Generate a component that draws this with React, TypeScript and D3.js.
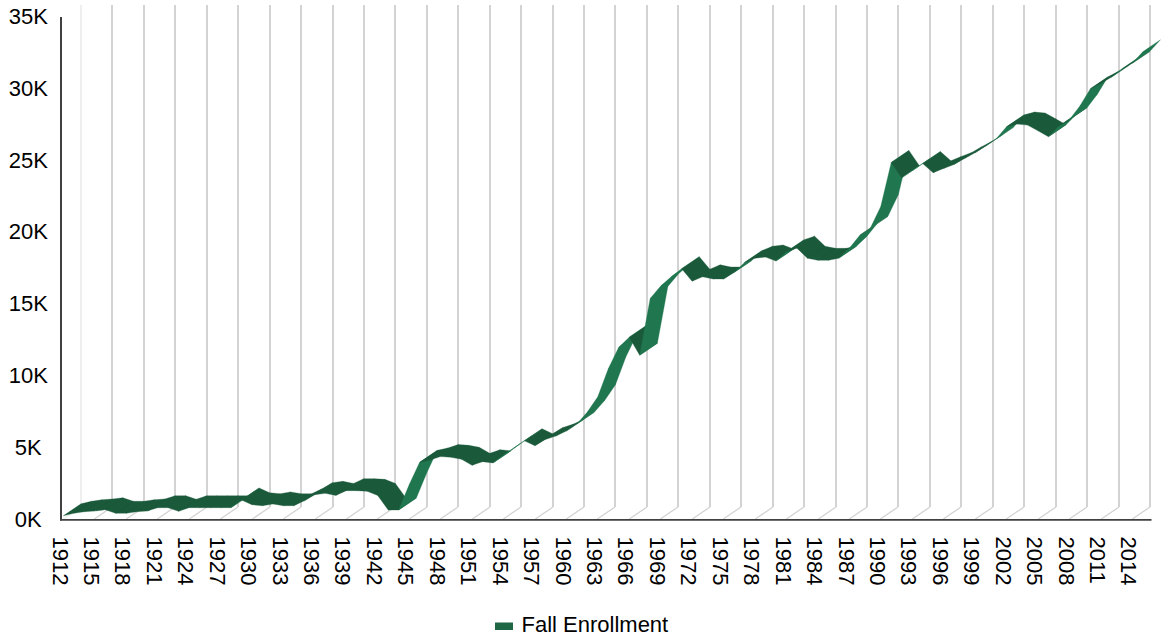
import React from "react";
import * as d3 from "d3";

const firstYear = 1912;
const enrollment = [
  260, 430, 540, 590, 680, 430, 430, 540, 590, 820,
  820, 570, 820, 820, 820, 820, 820, 1360, 1030, 960,
  1080, 960, 960, 1300, 1730, 1820, 1680, 2010, 2010, 1960,
  1680, 660, 660, 2420, 3980, 4140, 4380, 4330, 4190, 3770,
  4030, 3940, 4490, 4985, 5480, 5140, 5580, 5810, 6160, 6650,
  7480, 8550, 10500, 12000, 12700, 11440, 15400, 16260, 16900, 17470,
  16600, 16900, 16750, 16750, 17200, 17900, 18200, 18280, 18000, 18650,
  18900, 18200, 18050, 18050, 18200, 18900, 19800, 20280, 21800, 24870,
  23800, 24295, 24790, 24150, 24450, 24730, 25150, 25540, 26000, 26500,
  27350, 27540, 27470, 27070, 26660, 27400, 27850, 28800, 30000, 30380,
  30800, 31380, 31770, 32580,
];
const years = enrollment.map((_, i) => firstYear + i);
const labelYears = years.filter((_, i) => i % 3 === 0 && i < 103);
const valueTicks = [0, 5000, 10000, 15000, 20000, 25000, 30000, 35000];
const seriesName = "Fall Enrollment";

const FONT = "'Liberation Sans', Arial, sans-serif";
const DEPTH_X = 17.7;
const DEPTH_Y = 12;
const DARK = "#1a5a3b";
const LIGHT = "#20764f";

export default function App() {
  const x = d3.scaleLinear().domain([1912, 2015]).range([63.3, 63.3 + 10.48 * 103]);
  const y = d3.scaleLinear().domain([0, 35000]).range([519.5, 17]);
  const poly = d3.line();
  const slope = DEPTH_Y / DEPTH_X;

  const runs: { color: string; d: string }[] = [];
  enrollment.slice(1).forEach((v, k) => {
    const a = [x(years[k]), y(enrollment[k])] as [number, number];
    const b = [x(years[k + 1]), y(v)] as [number, number];
    const rise = (a[1] - b[1]) / (b[0] - a[0]);
    const color = rise > slope ? LIGHT : DARK;
    const d = poly([a, b, [b[0] + DEPTH_X, b[1] - DEPTH_Y], [a[0] + DEPTH_X, a[1] - DEPTH_Y]])! + "Z";
    const last = runs[runs.length - 1];
    if (last && last.color === color) last.d += d;
    else runs.push({ color, d });
  });

  return (
    <svg width={1161} height={639} style={{ position: "absolute", left: 0, top: 0, background: "#fff" }}>
      <g fill="none">
        {labelYears.map((yr, i) => {
          const bx = Math.round(x(yr) + DEPTH_X);
          const c = i === 0 ? "#efefef" : "#d3d3d3";
          return (
            <g key={yr} stroke={c}>
              <line x1={bx} x2={bx} y1={5} y2={507} strokeWidth={2} />
              <line x1={bx - DEPTH_X} x2={bx} y1={519} y2={507} strokeWidth={1.3} />
            </g>
          );
        })}
      </g>
      <g>
        {runs.map((r, i) => (
          <path key={i} d={r.d} fill={r.color} stroke={r.color} strokeWidth={0.3} strokeLinejoin="round" />
        ))}
      </g>
      <line x1={61} x2={61} y1={17} y2={520.5} stroke="#404040" strokeWidth={2} />
      <line x1={60} x2={1151.5} y1={519.8} y2={519.8} stroke="#404040" strokeWidth={1.8} />
      <g fontFamily={FONT} fontSize={22} fill="#000">
        {valueTicks.map((t) => (
          <text key={t} x={28.3} y={y(t) - 0.5} textAnchor="middle" dominantBaseline="central">
            {d3.format("~s")(t).replace("k", "K").replace(/^0$/, "0K")}
          </text>
        ))}
        {labelYears.map((yr) => (
          <text
            key={yr}
            transform={`translate(${x(yr) - 3.3},536.5) rotate(90)`}
            dominantBaseline="central"
          >
            {yr}
          </text>
        ))}
        <rect x={495} y={622.5} width={18} height={7.5} fill="#1f6645" />
        <text x={521.5} y={631.5}>{seriesName}</text>
      </g>
    </svg>
  );
}
